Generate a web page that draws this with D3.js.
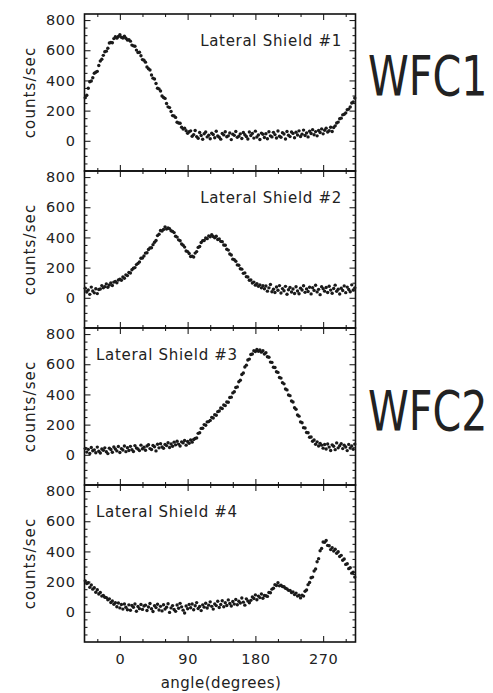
<!DOCTYPE html>
<html>
<head>
<meta charset="utf-8">
<script src="https://cdn.jsdelivr.net/npm/d3@7"></script>
<style>
  body { margin: 0; background: #fff; }
  text { font-family: "DejaVu Sans", sans-serif; fill: #222; }
</style>
</head>
<body>
<svg id="chart" width="493" height="693"></svg>
<script>
// Scan angle of the source, sampled every 2 degrees
const angles = d3.range(-46, 313, 2);

// Count rate (counts/sec) of each lateral shield versus angle
const shield1 = [
  286,302,348,391,396,418,448,454,460,499,
  529,540,566,590,594,613,648,651,650,677,
  689,680,691,703,686,681,693,679,668,669,
  660,634,629,626,601,585,587,563,538,534,
  521,489,477,469,436,415,409,380,348,344,
  330,297,287,281,247,225,220,194,167,164,
  155,123,118,116,90,78,84,67,50,60,
  66,30,41,68,28,17,55,35,10,47,
  58,26,37,14,50,42,20,63,32,24,
  11,48,39,60,27,33,52,8,44,36,
  62,23,31,46,15,55,40,29,12,58,
  35,49,18,64,25,38,9,51,43,22,
  47,14,60,33,26,56,41,19,65,30,
  24,54,45,12,62,37,28,58,49,20,
  57,38,66,29,44,71,35,52,26,63,
  48,74,40,61,33,68,55,79,46,70,
  84,58,67,90,62,88,99,118,124,146,
  150,172,176,185,206,210,224,250,258,284
];
const shield2 = [
  64,38,52,23,71,45,33,60,28,55,
  58,81,66,74,92,70,85,99,82,104,
  108,99,118,124,116,138,130,152,147,168,
  164,186,196,200,220,228,238,262,264,277,
  296,298,320,330,332,352,368,380,412,421,
  446,442,452,470,455,462,458,444,440,432,
  408,402,384,378,356,348,336,310,306,294,
  274,276,270,296,306,334,340,366,378,380,
  396,392,410,404,418,406,398,408,386,390,
  374,372,350,348,322,316,290,284,256,252,
  242,218,216,192,190,162,165,140,138,116,
  118,98,104,84,94,76,86,66,80,60,
  78,44,66,88,40,57,35,72,50,81,
  32,61,47,76,24,53,69,38,58,29,
  73,45,27,64,52,80,36,59,42,70,
  26,67,49,83,39,56,21,74,60,44,
  68,35,77,51,30,62,84,43,57,25,
  63,48,79,34,71,55,40,86,52,66
];
const shield3 = [
  42,18,36,9,48,27,33,14,51,24,
  12,39,30,46,20,8,44,35,17,52,
  38,26,55,15,41,32,58,21,47,29,
  56,34,22,61,45,38,28,64,40,50,
  30,58,67,41,35,62,53,26,70,46,
  74,52,43,69,61,80,48,72,57,84,
  66,90,71,58,86,79,95,64,88,76,
  98,84,101,108,112,142,146,175,176,200,
  196,218,220,228,248,244,266,262,286,290,
  310,306,330,326,350,348,380,382,410,418,
  446,450,484,494,532,542,582,594,628,634,
  664,668,690,684,698,686,694,680,690,668,
  676,650,646,614,612,580,578,550,546,512,
  508,478,470,436,430,396,392,356,350,312,
  302,264,256,218,212,180,178,148,146,116,
  118,90,98,70,86,58,76,64,44,68,
  38,72,51,29,66,57,34,79,46,60,
  74,41,63,52,28,69,45,58,36,71
];
const shield4 = [
  205,188,192,162,178,150,160,130,146,118,
  128,104,108,96,94,80,86,62,72,50,
  60,34,58,26,48,18,52,30,14,46,
  10,42,30,52,4,35,21,48,16,38,
  44,9,32,55,20,2,40,28,50,12,
  36,6,47,18,30,53,-4,26,41,15,
  3,45,24,56,33,11,-8,38,20,49,
  27,52,14,40,61,22,35,8,46,31,
  57,25,44,66,36,18,52,41,70,29,
  48,73,34,60,42,79,55,38,68,51,
  82,47,70,58,91,64,44,86,72,60,
  76,98,88,112,80,104,94,118,90,108,
  106,102,128,126,150,156,180,174,192,172,
  176,168,166,156,152,142,142,128,132,114,
  124,104,110,92,110,104,136,144,180,194,
  226,230,270,284,332,352,404,420,462,460,
  472,440,438,412,424,402,414,388,398,366,
  374,342,350,314,318,286,292,256,262,230
];

const panelTitles = ["Lateral Shield #1", "Lateral Shield #2", "Lateral Shield #3", "Lateral Shield #4"];
const series = [shield1, shield2, shield3, shield4];

const xTicks = [0, 90, 180, 270];
const xMinorTicks = [-30, 30, 60, 120, 150, 210, 240, 300];
const yTicks = [0, 200, 400, 600, 800];
const yMinorTicks = [-150, -100, -50, 50, 100, 150, 250, 300, 350, 450, 500, 550, 650, 700, 750];

const xLabel = "angle(degrees)";
const yLabel = "counts/sec";
const cameraLabels = ["WFC1", "WFC2"];

// ---- layout ----
const left = 84.5, right = 355.5, top0 = 14, panelH = 157;
const titleAnchor = ["end", "end", "start", "start"];
const cameraBaseline = [95, 430];
const svg = d3.select("#chart");

const x = d3.scaleLinear().domain([-47, 313]).range([left, right]);

series.forEach((vals, i) => {
  const top = top0 + i * panelH, bottom = top + panelH;
  const y = d3.scaleLinear().domain([-200, 840]).range([bottom, top]);
  const g = svg.append("g");

  // inward ticks on all four sides
  const addAxis = (axis, tx, ty, labels) => {
    const a = g.append("g").attr("transform", `translate(${tx},${ty})`).call(axis);
    a.select(".domain").remove();
    a.selectAll(".tick line").attr("stroke", "#222").attr("stroke-width", 1.1);
    if (!labels) a.selectAll(".tick text").remove();
    return a;
  };
  const yl = addAxis(d3.axisLeft(y).tickValues(yTicks).tickSize(-6).tickPadding(9).tickFormat(d3.format("d")), left, 0, true);
  yl.selectAll(".tick text").attr("font-size", 14.5).attr("letter-spacing", 0.6).attr("fill", "#222")
    .attr("font-family", "DejaVu Sans");
  addAxis(d3.axisLeft(y).tickValues(yMinorTicks).tickSize(-3), left, 0, false);
  addAxis(d3.axisRight(y).tickValues(yTicks).tickSize(-6), right, 0, false);
  addAxis(d3.axisRight(y).tickValues(yMinorTicks).tickSize(-3), right, 0, false);
  addAxis(d3.axisTop(x).tickValues(xTicks).tickSize(-6), 0, top, false);
  addAxis(d3.axisTop(x).tickValues(xMinorTicks).tickSize(-3), 0, top, false);
  const xb = addAxis(d3.axisBottom(x).tickValues(xTicks).tickSize(-6).tickPadding(12), 0, bottom, i === 3);
  addAxis(d3.axisBottom(x).tickValues(xMinorTicks).tickSize(-3), 0, bottom, false);
  if (i === 3) {
    xb.selectAll(".tick text").attr("font-size", 14.5).attr("letter-spacing", 0.6).attr("fill", "#222")
      .attr("font-family", "DejaVu Sans");
  }

  // frame
  g.append("rect")
    .attr("x", left).attr("y", top).attr("width", right - left).attr("height", panelH)
    .attr("fill", "none").attr("stroke", "#111").attr("stroke-width", 1.6);

  // data points
  g.append("g").selectAll("circle")
    .data(angles.map((a, k) => [a, vals[k]]))
    .join("circle")
    .attr("cx", d => x(d[0]))
    .attr("cy", d => y(d[1]))
    .attr("r", 1.7)
    .attr("fill", "#1a1a1a");

  // panel title
  g.append("text")
    .attr("x", titleAnchor[i] === "end" ? 342 : 96)
    .attr("y", top + 32)
    .attr("text-anchor", titleAnchor[i])
    .attr("font-size", 15)
    .attr("letter-spacing", 0.7)
    .attr("fill", "#222")
    .text(panelTitles[i]);

  // y axis title
  g.append("text")
    .attr("transform", `translate(35,${top + panelH / 2}) rotate(-90)`)
    .attr("text-anchor", "middle")
    .attr("font-size", 15)
    .attr("letter-spacing", 1.1)
    .attr("fill", "#222")
    .text(yLabel);
});

// x axis title
svg.append("text")
  .attr("x", (left + right) / 2 + 1)
  .attr("y", 688)
  .attr("text-anchor", "middle")
  .attr("font-size", 15)
  .attr("letter-spacing", 0.5)
  .attr("fill", "#222")
  .text(xLabel);

// camera labels beside the panels (condensed horizontally)
cameraLabels.forEach((label, k) => {
  svg.append("text")
    .attr("transform", `translate(368,${cameraBaseline[k]}) scale(0.75,1)`)
    .attr("font-size", 55)
    .attr("fill", "#000")
    .text(label);
});
</script>
</body>
</html>
